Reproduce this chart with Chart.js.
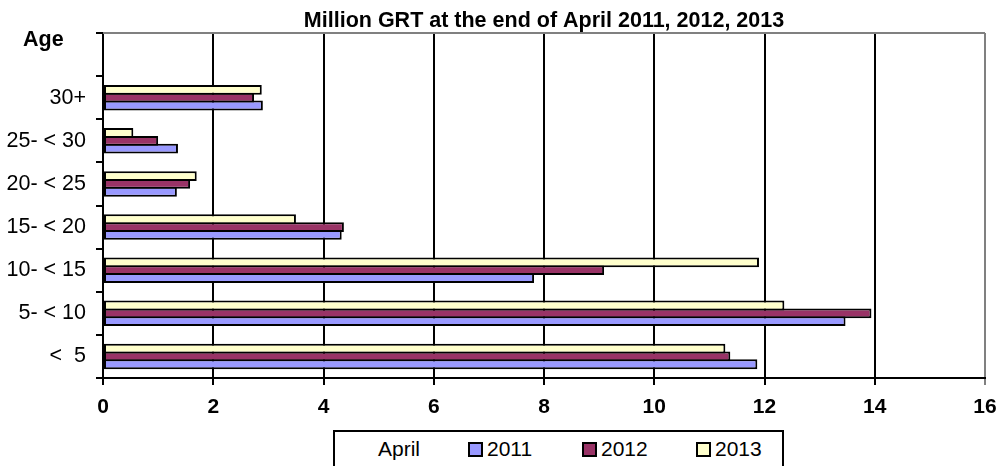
<!DOCTYPE html>
<html lang="en">
<head>
    <meta charset="UTF-8">
    <title>Million GRT by age</title>
    <script src="https://cdn.jsdelivr.net/npm/chart.js"></script>
    <style>
        body { margin: 0; background: #fff; }
        #wrap { position: relative; width: 999px; height: 466px; overflow: hidden; }
        #legend {
            position: absolute; left: 333px; top: 430px; width: 447px; height: 60px;
            border: 2px solid #000; background: #fff;
            font: 21px "Liberation Sans", Arial, sans-serif; color: #000;
        }
        #legend span { position: absolute; top: 4px; line-height: 25px; white-space: pre; }
        #legend i { position: absolute; top: 10px; width: 11px; height: 11px; border: 2px solid #000; }
    </style>
</head>
<body>
<div id="wrap">
    <canvas id="myChart" width="999" height="466"></canvas>
    <div id="legend"></div>
</div>
<script>
    // age groups, top to bottom (first slot is left empty like the original)
    const ageGroups = ['', '30+', '25- < 30', '20- < 25', '15- < 20', '10- < 15', '5- < 10', '<  5'];
    const years = ['2011', '2012', '2013'];
    const colors = ['#9999FF', '#993366', '#FFFFCC'];

    // million GRT at the end of April
    const grt2011 = [null, 2.9, 1.36, 1.34, 4.33, 7.82, 13.47, 11.87];
    const grt2012 = [null, 2.74, 1.0, 1.58, 4.37, 9.09, 13.94, 11.38];
    const grt2013 = [null, 2.88, 0.55, 1.7, 3.5, 11.9, 12.36, 11.29];

    const xTicks = [0, 2, 4, 6, 8, 10, 12, 14, 16];
    const titleText = 'Million GRT at the end of April 2011, 2012, 2013';
    const axisTitle = 'Age';
    const legendTitle = 'April';

    const FONT = '"Liberation Sans", Arial, sans-serif';
    const series = [grt2011, grt2012, grt2013];

    // 2013 is drawn on top of each group, so datasets go in reverse order
    const datasets = [2, 1, 0].map(i => ({
        label: years[i],
        data: series[i],
        backgroundColor: colors[i],
        borderColor: '#000',
        borderWidth: 2,
        borderSkipped: false,
        categoryPercentage: 0.54,
        barPercentage: 1.27
    }));

    // frame + texts that Chart.js has no slot for
    const decor = {
        id: 'decor',
        afterDraw(chart) {
            const {ctx, chartArea: a} = chart;
            ctx.save();
            ctx.strokeStyle = '#808080';
            ctx.lineWidth = 2;
            ctx.beginPath();
            ctx.moveTo(a.left, a.top);
            ctx.lineTo(a.right, a.top);
            ctx.stroke();
            ctx.fillStyle = '#000';
            ctx.font = 'bold 21.5px ' + FONT;
            ctx.textBaseline = 'alphabetic';
            ctx.textAlign = 'center';
            ctx.fillText(titleText, (a.left + a.right) / 2, 27);
            ctx.textAlign = 'left';
            ctx.fillText(axisTitle, 23, 46);
            ctx.restore();
        }
    };

    const ctx = document.getElementById('myChart').getContext('2d');
    new Chart(ctx, {
        type: 'bar',
        data: { labels: ageGroups, datasets: datasets },
        options: {
            indexAxis: 'y',
            responsive: false,
            animation: false,
            layout: { padding: { top: 33, right: 14, left: 0, bottom: 0 } },
            plugins: { legend: { display: false }, tooltip: { enabled: false } },
            scales: {
                x: {
                    min: 0, max: 16,
                    afterBuildTicks: s => { s.ticks = xTicks.map(v => ({ value: v })); },
                    afterFit: s => { s.height = 88; s.paddingRight = 0; s.paddingLeft = 0; },
                    grid: {
                        color: c => (c.tick && c.tick.value === 16 ? '#808080' : '#000'),
                        lineWidth: 2,
                        tickLength: 7
                    },
                    border: { color: '#000', width: 2 },
                    ticks: {
                        color: '#000',
                        padding: 10,
                        maxRotation: 0,
                        font: { family: FONT, size: 21, weight: 'bold' }
                    }
                },
                y: {
                    afterFit: s => { s.width = 103; s.paddingTop = 0; s.paddingBottom = 0; },
                    grid: { drawOnChartArea: false, color: '#000', lineWidth: 2, tickLength: 7 },
                    border: { color: '#000', width: 2 },
                    ticks: {
                        color: '#000',
                        padding: 10,
                        font: { family: FONT, size: 21.5 }
                    }
                }
            }
        },
        plugins: [decor]
    });

    // legend box below the axis
    const legend = document.getElementById('legend');
    let html = '<span style="left:43px">' + legendTitle + '</span>';
    years.forEach((y, i) => {
        const left = 133 + i * 114;
        html += '<i style="left:' + left + 'px;background:' + colors[i] + '"></i>';
        html += '<span style="left:' + (left + 19) + 'px">' + y + '</span>';
    });
    legend.innerHTML = html;
</script>
</body>
</html>
